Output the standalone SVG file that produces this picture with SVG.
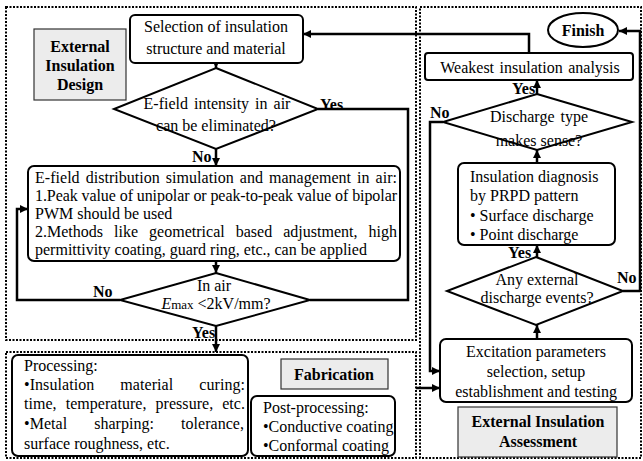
<svg xmlns="http://www.w3.org/2000/svg" width="643" height="461" viewBox="0 0 643 461">
<defs>
<marker id="ah" viewBox="0 0 10 10" refX="10" refY="5" markerWidth="9" markerHeight="8" markerUnits="userSpaceOnUse" orient="auto"><path d="M0,0 L10,5 L0,10 z" fill="#000"/></marker>
</defs>
<style>
text{font-family:"Liberation Serif","Times New Roman",serif;font-size:16px;fill:#000}
.b{font-weight:bold}
.c{text-anchor:middle}
.box{fill:#fff;stroke:#000;stroke-width:2}
.gray{fill:#ececec;stroke:#333;stroke-width:1.2}
.reg{fill:none;stroke:#000;stroke-width:2;stroke-dasharray:2 1.5}
.ln{fill:none;stroke:#000;stroke-width:2.5}
.ar{marker-end:url(#ah)}
</style>
<rect width="643" height="461" fill="#fff"/>
<g id="regions">
<rect class="reg" x="6" y="7" width="410" height="333"/>
<rect class="reg" x="6" y="352" width="410" height="106"/>
<rect class="reg" x="420" y="7" width="221" height="451"/>
</g>
<g id="connectors">
<line class="ln ar" x1="216" y1="63" x2="216" y2="68"/>
<line class="ln ar" x1="216" y1="149" x2="216" y2="166"/>
<line class="ln ar" x1="216" y1="261" x2="216" y2="273"/>
<polyline class="ln" points="318,109 408,109 408,300 310,300"/>
<polyline class="ln ar" points="120,300 17,300 17,209 28,209"/>
<line class="ln ar" x1="216" y1="326" x2="216" y2="352"/>
<line class="ln ar" x1="416" y1="388" x2="440" y2="388"/>
<line class="ln ar" x1="537" y1="339" x2="537" y2="325"/>
<line class="ln ar" x1="537" y1="257" x2="537" y2="245"/>
<line class="ln ar" x1="537" y1="163" x2="537" y2="150"/>
<line class="ln ar" x1="537" y1="94" x2="537" y2="80"/>
<polyline class="ln ar" points="443,122 430,122 430,371 440,371"/>
<polyline class="ln ar" points="623,291 640,291 640,31 619,31"/>
<polyline class="ln ar" points="529,53 529,34 303,34"/>
</g>
<g id="label-design">
<rect class="gray" x="34" y="29" width="92" height="71"/>
<text class="b c" x="80" y="52">External</text>
<text class="b c" x="80" y="71">Insulation</text>
<text class="b c" x="80" y="90">Design</text>
</g>
<g id="selection">
<rect class="box" x="130" y="15" width="173" height="48" rx="5"/>
<text class="c" x="216" y="32">Selection of insulation</text>
<text class="c" x="216" y="54">structure and material</text>
</g>
<g id="decision-eliminate">
<polygon class="box" points="216,68 318,109 216,149 114,109"/>
<text class="c" x="217" y="109" style="word-spacing:2px">E-field intensity in air</text>
<text class="c" x="216" y="131">can be eliminated?</text>
<text class="b" x="320" y="110">Yes</text>
<text class="b" x="192" y="162">No</text>
</g>
<g id="efield-management">
<rect class="box" x="28" y="166" width="372" height="95" rx="6"/>
<text x="35" y="183" textLength="362" lengthAdjust="spacing" style="word-spacing:2px">E-field distribution simulation and management in air:</text>
<text x="35" y="201" textLength="362" lengthAdjust="spacing">1.Peak value of unipolar or peak-to-peak value of bipolar</text>
<text x="35" y="219">PWM should be used</text>
<text x="35" y="237" textLength="362" lengthAdjust="spacing" style="word-spacing:7px">2.Methods like geometrical based adjustment, high</text>
<text x="35" y="255">permittivity coating, guard ring, etc., can be applied</text>
</g>
<g id="decision-emax">
<polygon class="box" points="216,273 310,300 216,326 120,300"/>
<text class="c" x="214" y="291">In air</text>
<text class="c" x="216" y="309"><tspan font-style="italic">E</tspan><tspan font-size="13">max</tspan> &lt;2kV/mm?</text>
<text class="b" x="93" y="297">No</text>
<text class="b" x="192" y="338">Yes</text>
</g>
<g id="processing">
<rect class="box" x="12" y="355" width="236" height="101" rx="6"/>
<text x="24" y="371">Processing:</text>
<text x="24" y="390" textLength="221" lengthAdjust="spacing" style="word-spacing:22px">•Insulation material curing:</text>
<text x="24" y="409" textLength="221" lengthAdjust="spacing" style="word-spacing:5px">time, temperature, pressure, etc.</text>
<text x="24" y="429" textLength="220" lengthAdjust="spacing" style="word-spacing:23px">•Metal sharping: tolerance,</text>
<text x="24" y="449">surface roughness, etc.</text>
</g>
<g id="label-fabrication">
<rect class="gray" x="281" y="359" width="107" height="30"/>
<text class="b c" x="334" y="380">Fabrication</text>
</g>
<g id="post-processing">
<rect class="box" x="251" y="396" width="144" height="60" rx="6"/>
<text x="263" y="413">Post-processing:</text>
<text x="263" y="432">•Conductive coating</text>
<text x="263" y="451">•Conformal coating</text>
</g>
<g id="finish">
<ellipse class="box" cx="583" cy="30" rx="35" ry="17"/>
<text class="b c" x="583" y="36">Finish</text>
</g>
<g id="weakest">
<rect class="box" x="425" y="53" width="208" height="27" rx="3"/>
<text class="c" x="530" y="73" style="word-spacing:1.5px">Weakest insulation analysis</text>
</g>
<g id="decision-type">
<polygon class="box" points="537,94 632,122 537,150 443,122"/>
<text class="c" x="539" y="122" style="word-spacing:2px">Discharge type</text>
<text class="c" x="539" y="146">makes sense?</text>
<text class="b" x="512" y="94">Yes</text>
<text class="b" x="430" y="118">No</text>
</g>
<g id="diagnosis">
<rect class="box" x="458" y="163" width="157" height="82" rx="6"/>
<text x="470" y="182">Insulation diagnosis</text>
<text x="470" y="201">by PRPD pattern</text>
<text x="470" y="221">• Surface discharge</text>
<text x="470" y="240">• Point discharge</text>
</g>
<g id="decision-events">
<polygon class="box" points="536,257 623,291 536,325 447,291"/>
<text class="c" x="537" y="285">Any external</text>
<text class="c" x="537" y="303">discharge events?</text>
<text class="b" x="508" y="258">Yes</text>
<text class="b" x="617" y="283">No</text>
</g>
<g id="excitation">
<rect class="box" x="440" y="339" width="192" height="63" rx="6"/>
<text class="c" x="536" y="357">Excitation parameters</text>
<text class="c" x="536" y="377">selection, setup</text>
<text class="c" x="536" y="397">establishment and testing</text>
</g>
<g id="label-assessment">
<rect class="gray" x="458" y="407" width="159" height="50"/>
<text class="b c" x="538" y="427">External Insulation</text>
<text class="b c" x="538" y="447">Assessment</text>
</g>
</svg>
